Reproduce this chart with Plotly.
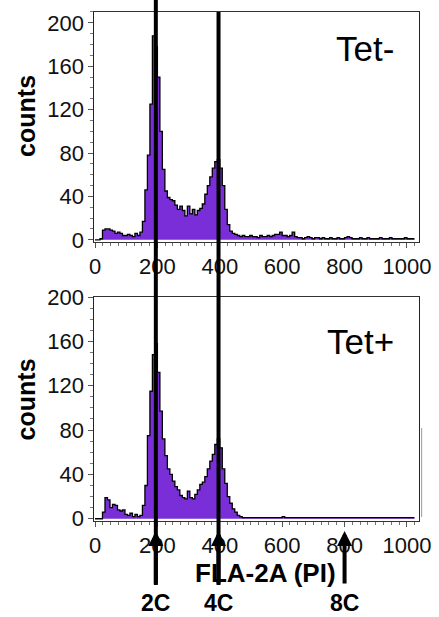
import plotly.graph_objects as go

# ---- data (flow cytometry PI histograms, 8-channel bins over 0..1023) ----
bin_width = 8
channel_bins = list(range(0, 1024, bin_width))

tet_minus_counts = [
    0, 0, 1,
    9, 10, 10, 9, 8, 6, 7, 6, 4, 4, 5, 4, 3, 6, 4, 7,
    17, 46, 78, 125, 188, 178, 150, 100, 65, 45,
    39, 37, 36, 32, 28, 31, 27, 22, 31, 24, 28, 23, 27, 29, 33,
    42, 50, 58, 66, 72, 74, 66, 50, 28, 14,
    8, 6, 5,
    4, 3, 4, 3, 3, 4, 3, 3, 2, 4, 3, 3, 4, 3, 4, 5,
    5, 7, 4, 4, 3, 4, 7, 3,
    2, 2, 1, 2, 3, 2, 1, 2, 2, 1, 2, 1, 1, 2, 1, 1,
    2, 1, 1, 2, 3, 2, 1, 1, 1, 2, 1, 1, 2, 1, 1, 1,
    1, 2, 1, 1, 1, 2, 1, 1, 1, 1, 1, 2, 1, 1, 1,
]
tet_plus_counts = [
    0, 0, 0,
    6, 19, 17, 10, 13, 12, 8, 7, 8, 4, 3, 5, 2, 4, 2, 3,
    12, 30, 75, 115, 148, 158, 132, 97, 72, 57,
    45, 40, 34, 29, 26, 21, 19, 18, 25, 19, 18, 22, 26, 31, 33,
    38, 45, 52, 58, 67, 72, 64, 45, 32, 20,
    14, 9, 6, 3, 2,
    1, 1, 1, 1, 1, 1, 1, 1, 1, 1, 1, 1, 1, 1, 1, 1, 2, 1, 1, 1,
    1, 1, 1, 1, 1, 1, 1, 1, 1, 1, 1, 1, 1, 1, 1, 1, 1, 1, 1, 1,
    1, 1, 1, 1, 1, 1, 1, 1, 1, 1, 1, 1, 1, 1, 1, 1, 1, 1, 1, 1,
    1, 1, 1, 1, 1, 1, 1, 1, 1,
]
tick_values_x = [0, 200, 400, 600, 800, 1000]
tick_values_y = [0, 40, 80, 120, 160, 200]
ploidy_labels = ["2C", "4C", "8C"]
ploidy_positions = [195, 396, 800]
panel_labels = ["Tet-", "Tet+"]

# ---- styling ----
FONT = "Liberation Sans, Arial, sans-serif"
PURPLE = "#7A2ED8"
fig = go.Figure()

def step_trace(counts, xa, ya):
    xs = channel_bins + [1024]
    ys = counts + [counts[-1]]
    return go.Scatter(x=xs, y=ys, xaxis=xa, yaxis=ya, mode="lines",
                      line=dict(shape="hv", color="black", width=1.3),
                      fill="tozeroy", fillcolor=PURPLE, hoverinfo="skip",
                      showlegend=False)

fig.add_trace(step_trace(tet_minus_counts, "x", "y"))
fig.add_trace(step_trace(tet_plus_counts, "x2", "y2"))

x_common = dict(range=[-2, 1038], tickvals=tick_values_x, ticks="outside",
                ticklen=5, tickcolor="#555", showline=True, linecolor="#333",
                linewidth=1, mirror=True, showgrid=False, zeroline=False,
                automargin=False,
                tickfont=dict(family=FONT, size=22, color="#111"),
                minor=dict(dtick=25, ticks="outside", ticklen=3, tickcolor="#777"))
y_common = dict(tickvals=tick_values_y, ticks="outside", ticklen=5,
                tickcolor="#555", showline=True, linecolor="#222", linewidth=1,
                mirror=True, showgrid=False, zeroline=False, automargin=False,
                tickfont=dict(family=FONT, size=22, color="#111"),
                minor=dict(dtick=10, ticks="outside", ticklen=3, tickcolor="#777"))

fig.update_layout(
    width=439, height=617, margin=dict(l=0, r=0, t=0, b=0, autoexpand=False),
    plot_bgcolor="white", paper_bgcolor="white",
    xaxis=dict(domain=[0.215, 0.954], anchor="y", **x_common),
    yaxis=dict(domain=[0.6078, 0.9806], anchor="x", range=[-2, 210], **y_common),
    xaxis2=dict(domain=[0.215, 0.954], anchor="y2", **x_common),
    yaxis2=dict(domain=[0.1556, 0.5186], anchor="x2", range=[-2, 200], **y_common),
)

# vertical marker lines (2C, 4C) and arrows
line_tops = [1.0, 0.9806]
for pos, top in zip(ploidy_positions[:2], line_tops):
    fig.add_shape(type="line", xref="x2", yref="paper", x0=pos, x1=pos,
                  y0=0.0519, y1=top, line=dict(color="black", width=4))
# faint stray border segment at right of lower panel
fig.add_shape(type="line", xref="paper", yref="paper", x0=0.9605, x1=0.9605,
              y0=0.162, y1=0.3063, line=dict(color="#999", width=1))

for pos, lab in zip(ploidy_positions, ploidy_labels):
    fig.add_annotation(x=pos, xref="x2", y=0.1394, yref="paper", text="",
                       showarrow=True, ax=0, ay=54, arrowhead=2, arrowsize=0.75,
                       arrowwidth=4, arrowcolor="black")
    fig.add_annotation(x=pos, xref="x2", y=0.0227, yref="paper", text="<b>" + lab + "</b>",
                       showarrow=False, font=dict(family=FONT, size=23, color="black"),
                       xanchor="center", yanchor="middle")

def label(x, y, text, size, angle=0):
    fig.add_annotation(x=x, y=y, xref="paper", yref="paper", text=text,
                       textangle=angle, showarrow=False, xanchor="center",
                       yanchor="middle", font=dict(family=FONT, size=size, color="black"))

for yc in [0.812, 0.3525]:
    label(0.059, yc, "<b>counts</b>", 25, -90)
label(0.604, 0.0713, "<b>FLA-2A (PI)</b>", 26)
label(0.831, 0.921, panel_labels[0], 35)
label(0.822, 0.447, panel_labels[1], 35)

fig.write_html("out.html", config={"displayModeBar": False},
               post_script="document.body.style.margin='0';document.body.style.overflow='hidden';")
